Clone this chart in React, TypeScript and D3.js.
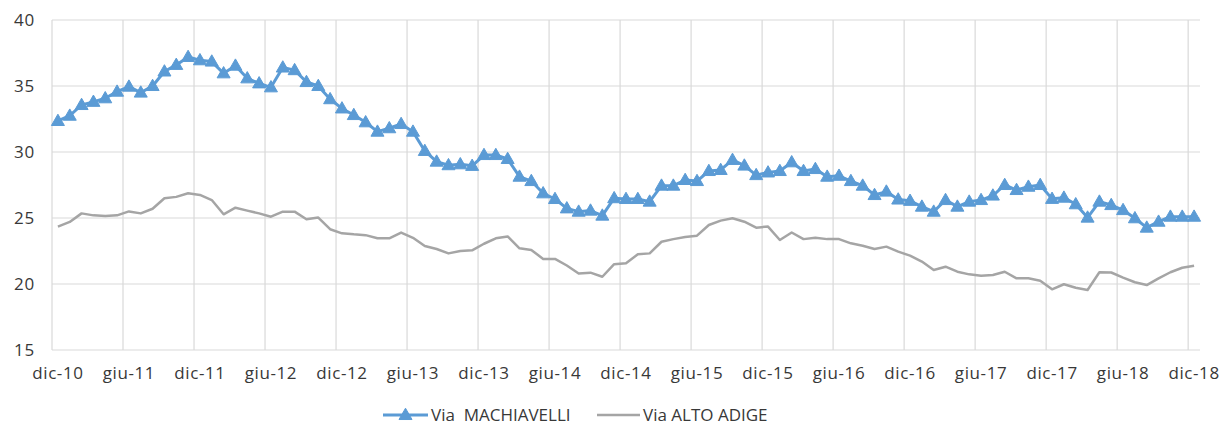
import React from "react";
import * as d3 from "d3";

const months: string[] = d3.range(97).map((i) => `m${i}`);

const tickLabels: string[] = [
  "dic-10", "giu-11", "dic-11", "giu-12", "dic-12", "giu-13", "dic-13", "giu-14", "dic-14",
  "giu-15", "dic-15", "giu-16", "dic-16", "giu-17", "dic-17", "giu-18", "dic-18",
];

const yTicks: number[] = [15, 20, 25, 30, 35, 40];

const machiavelli: number[] = [
  32.35, 32.75, 33.56, 33.8, 34.07, 34.57, 34.95, 34.5, 35.0, 36.1, 36.6, 37.2,
  36.95, 36.85, 35.96, 36.54, 35.58, 35.2, 34.9, 36.4, 36.2, 35.3, 35.0, 34.0,
  33.3, 32.8, 32.25, 31.54, 31.8, 32.12, 31.54, 30.08, 29.27, 29.0, 29.07, 28.95,
  29.77, 29.77, 29.47, 28.13, 27.8, 26.87, 26.44, 25.73, 25.48, 25.56, 25.18, 26.5,
  26.44, 26.44, 26.24, 27.45, 27.45, 27.88, 27.8, 28.56, 28.64, 29.4, 28.97, 28.25,
  28.45, 28.56, 29.22, 28.56, 28.71, 28.13, 28.2, 27.8, 27.45, 26.74, 27.0, 26.4,
  26.3, 25.86, 25.48, 26.36, 25.86, 26.24, 26.36, 26.7, 27.5, 27.12, 27.37, 27.5,
  26.45, 26.54, 26.04, 25.03, 26.24, 25.98, 25.6, 24.98, 24.27, 24.72, 25.1, 25.1,
  25.1,
];

const altoAdige: number[] = [
  24.34, 24.7, 25.35, 25.2, 25.15, 25.2, 25.5, 25.35, 25.7, 26.5, 26.6, 26.87,
  26.75, 26.36, 25.28, 25.78, 25.56, 25.35, 25.1, 25.48, 25.48, 24.9, 25.03, 24.15,
  23.84, 23.76, 23.7, 23.46, 23.46, 23.9, 23.5, 22.88, 22.65, 22.32, 22.5, 22.55,
  23.05, 23.46, 23.6, 22.7, 22.58, 21.9, 21.9, 21.4, 20.8, 20.86, 20.55, 21.5,
  21.57, 22.25, 22.32, 23.2, 23.4, 23.56, 23.66, 24.47, 24.8, 24.98, 24.72, 24.27,
  24.35, 23.33, 23.9, 23.4, 23.5, 23.4, 23.4, 23.08, 22.9, 22.65, 22.83, 22.45,
  22.15, 21.7, 21.06, 21.31, 20.93, 20.73, 20.63, 20.68, 20.93, 20.43, 20.43, 20.25,
  19.6, 19.98, 19.72, 19.55, 20.89, 20.87, 20.48, 20.13, 19.92, 20.43, 20.89, 21.23,
  21.39,
];

const seriesNames = ["Via  MACHIAVELLI", "Via ALTO ADIGE"];

const W = 1225;
const H = 426;
const left = 52;
const right = 1200;
const top = 20;
const bottom = 350;

const BLUE = "#5B9BD5";
const GREY = "#A5A5A5";
const GRID = "#D9D9D9";
const TEXT = "#383838";
const FONT = "'Open Sans', 'Liberation Sans', sans-serif";

function tri(cx: number, cy: number, s: number) {
  const h = s * 0.87;
  return `M${cx},${cy - h * 0.6}L${cx + s / 2},${cy + h * 0.4}L${cx - s / 2},${cy + h * 0.4}Z`;
}

export default function App() {
  const x = d3.scaleBand<string>().domain(months).range([left, right]).padding(0);
  const bw = x.bandwidth();
  const cx = (i: number) => (x(months[i]) as number) + bw / 2;
  const y = d3.scaleLinear().domain([15, 40]).range([bottom, top]);

  const line = d3
    .line<number>()
    .x((_, i) => cx(i))
    .y((d) => y(d));

  const gridIdx = d3.range(0, 97, 6);
  const legY = 415;

  return (
    <svg
      width={W}
      height={H}
      style={{ position: "absolute", left: 0, top: 0, background: "#fff" }}
      fontFamily={FONT}
    >
      <rect width={W} height={H} fill="#fff" />
      {yTicks.map((t) => (
        <line key={`h${t}`} x1={left} x2={right} y1={y(t)} y2={y(t)} stroke={GRID} strokeWidth={1.2} />
      ))}
      {gridIdx.map((i) => (
        <line
          key={`v${i}`}
          x1={x(months[i]) as number}
          x2={x(months[i]) as number}
          y1={top}
          y2={bottom}
          stroke={GRID}
          strokeWidth={1.2}
        />
      ))}
      {yTicks.map((t) => (
        <text
          key={`yl${t}`}
          x={35}
          y={y(t)}
          dy="0.36em"
          textAnchor="end"
          fontSize={17}
          fill={TEXT}
          letterSpacing={0.8}
        >
          {t}
        </text>
      ))}
      {gridIdx.map((i, k) => (
        <text
          key={`xl${i}`}
          x={cx(i)}
          y={379}
          textAnchor="middle"
          fontSize={17}
          fill={TEXT}
          letterSpacing={0.6}
        >
          {tickLabels[k]}
        </text>
      ))}
      <path d={line(altoAdige) || ""} fill="none" stroke={GREY} strokeWidth={2.5} strokeLinejoin="round" />
      <path d={line(machiavelli) || ""} fill="none" stroke={BLUE} strokeWidth={3} strokeLinejoin="round" />
      {machiavelli.map((v, i) => (
        <path key={`m${i}`} d={tri(cx(i), y(v), 13)} fill={BLUE} stroke={BLUE} strokeWidth={1} />
      ))}
      {/* legend */}
      <line x1={383} x2={428} y1={legY} y2={legY} stroke={BLUE} strokeWidth={3} />
      <path d={tri(405.5, legY, 13)} fill={BLUE} stroke={BLUE} strokeWidth={1} />
      <text x={431} y={legY} dy="0.36em" fontSize={17} fill={TEXT} style={{ whiteSpace: "pre" }}>
        {seriesNames[0]}
      </text>
      <line x1={597} x2={640} y1={legY} y2={legY} stroke={GREY} strokeWidth={2.5} />
      <text x={643} y={legY} dy="0.36em" fontSize={17} fill={TEXT} style={{ whiteSpace: "pre" }}>
        {seriesNames[1]}
      </text>
    </svg>
  );
}
